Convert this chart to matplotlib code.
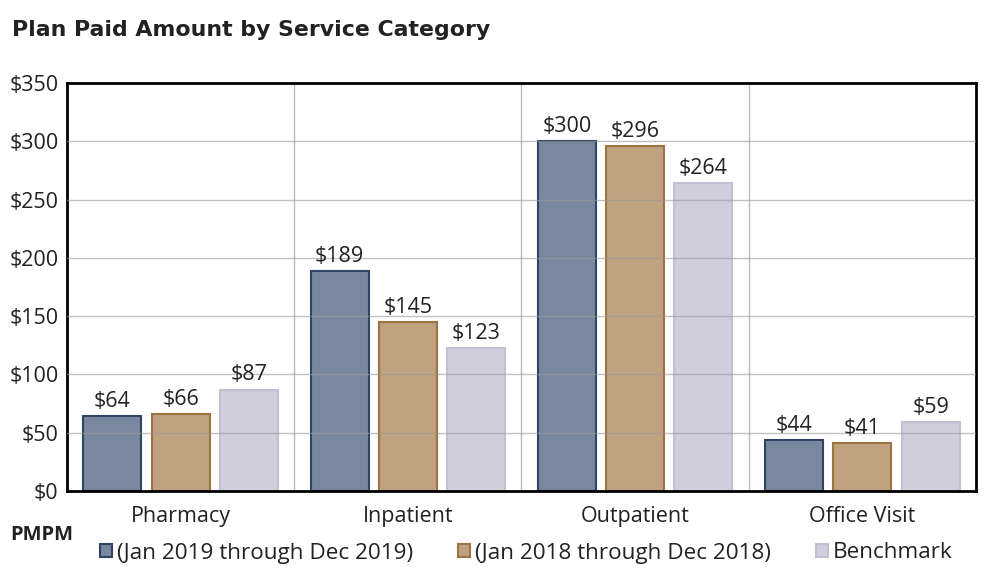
import matplotlib
matplotlib.use("Agg")
import matplotlib.pyplot as plt
from matplotlib.patches import Patch
import numpy as np

categories = ["Pharmacy", "Inpatient", "Outpatient", "Office Visit"]
series_names = ["(Jan 2019 through Dec 2019)", "(Jan 2018 through Dec 2018)", "Benchmark"]
values_2019 = [64, 189, 300, 44]
values_2018 = [66, 145, 296, 41]
values_bench = [87, 123, 264, 59]
y_ticks = [0, 50, 100, 150, 200, 250, 300, 350]

fills = ["#7a889f", "#c0a180", "#d0cedd"]
edges = ["#2e4466", "#9c7442", "#c2c0d2"]

plt.rcParams['font.family'] = ['Open Sans', 'DejaVu Sans']
FS = 15.5

fig = plt.figure(figsize=(9.89, 5.68), dpi=100)
ax = fig.add_axes([0.0677, 0.1356, 0.9192, 0.7183])

x = np.arange(len(categories))
offsets = [-0.3, 0.0, 0.3]
width = 0.255
all_vals = [values_2019, values_2018, values_bench]
for i, vals in enumerate(all_vals):
    ax.bar(x + offsets[i], vals, width, color=fills[i], edgecolor=edges[i],
           linewidth=1.5, zorder=2)
    for xi, v in zip(x + offsets[i], vals):
        ax.text(xi, v + 3.5, f"${v}", ha="center", va="bottom", fontsize=FS, color="#222222", zorder=4)

ax.set_xlim(-0.5, 3.5)
ax.set_ylim(0, 350)
ax.set_yticks(y_ticks)
ax.set_yticklabels([f"${t}" for t in y_ticks], fontsize=FS, color="#222222")
ax.set_xticks(x)
ax.set_xticklabels(categories, fontsize=FS, color="#222222")
ax.tick_params(axis="y", length=0, pad=6)
ax.tick_params(axis="x", length=0, pad=11)

for t in y_ticks[1:-1]:
    ax.axhline(t, color="#999999", linewidth=1, alpha=0.6, zorder=3)
for b in [0.5, 1.5, 2.5]:
    ax.axvline(b, color="#bbbbbb", linewidth=1, zorder=1)

for s in ax.spines.values():
    s.set_linewidth(2)
    s.set_color("black")

fig.text(12/989, 1 - 30/568, "Plan Paid Amount by Service Category", fontsize=15.8,
         fontweight="bold", family=["DejaVu Sans"], color="#222222", va="center", ha="left")
fig.text(10/989, 1 - 535/568, "PMPM", fontsize=14.5, fontweight="bold", color="#222222",
         va="center", ha="left")

handles = [Patch(facecolor=fills[i], edgecolor=edges[i], linewidth=1.5) for i in range(3)]
leg = fig.legend(handles, series_names, loc="center", bbox_to_anchor=(526/989, 1 - 553/568),
                 ncol=3, frameon=False, fontsize=16.2, handlelength=0.55, handleheight=0.55,
                 handletextpad=0.2, columnspacing=2.0, borderpad=0)
for t in leg.get_texts():
    t.set_color("#222222")

fig.savefig("out.png", dpi=100)
